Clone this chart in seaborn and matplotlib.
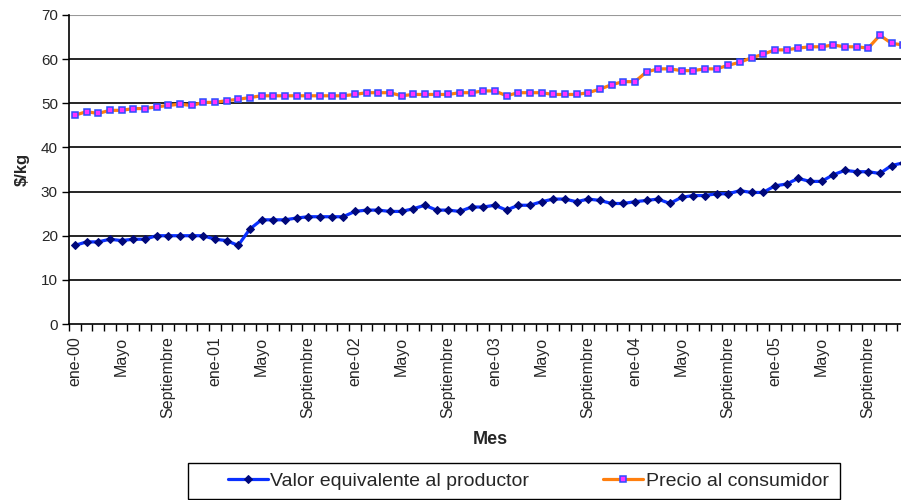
import matplotlib
matplotlib.use('Agg')
import matplotlib.pyplot as plt
import seaborn as sns
import numpy as np
import pandas as pd
from matplotlib.patches import Rectangle

# monthly values, ene-00 .. dic-05
productor = [17.8, 18.6, 18.6, 19.2, 18.9, 19.2, 19.2, 20.0, 20.0, 20.0, 20.0, 20.0,
             19.2, 18.9, 17.8, 21.5, 23.6, 23.6, 23.6, 24.0, 24.3, 24.3, 24.3, 24.3,
             25.5, 25.8, 25.8, 25.5, 25.5, 26.1, 26.9, 25.8, 25.8, 25.5, 26.5, 26.5,
             26.9, 25.8, 26.9, 26.9, 27.7, 28.3, 28.3, 27.7, 28.3, 28.0, 27.3, 27.3,
             27.7, 28.0, 28.3, 27.3, 28.7, 29.1, 29.1, 29.5, 29.5, 30.2, 29.8, 29.8,
             31.3, 31.7, 33.0, 32.3, 32.3, 33.8, 34.8, 34.5, 34.5, 34.1, 35.9, 36.5]
consumidor = [47.3, 48.1, 47.7, 48.4, 48.4, 48.8, 48.8, 49.2, 49.5, 49.8, 49.5, 50.2,
              50.2, 50.6, 50.9, 51.3, 51.7, 51.7, 51.7, 51.7, 51.7, 51.7, 51.7, 51.7,
              52.0, 52.4, 52.4, 52.4, 51.7, 52.0, 52.0, 52.0, 52.0, 52.4, 52.4, 52.8,
              52.8, 51.7, 52.4, 52.4, 52.4, 52.0, 52.0, 52.0, 52.4, 53.2, 54.2, 54.9,
              54.9, 57.1, 57.8, 57.8, 57.4, 57.4, 57.8, 57.8, 58.6, 59.3, 60.3, 61.1,
              62.1, 62.1, 62.5, 62.8, 62.8, 63.2, 62.8, 62.8, 62.5, 65.4, 63.6, 63.2]
tick_labels = ['ene-00', 'Mayo', 'Septiembre', 'ene-01', 'Mayo', 'Septiembre',
               'ene-02', 'Mayo', 'Septiembre', 'ene-03', 'Mayo', 'Septiembre',
               'ene-04', 'Mayo', 'Septiembre', 'ene-05', 'Mayo', 'Septiembre']

sns.set_style('white')
plt.rcParams['font.family'] = ['Liberation Sans', 'DejaVu Sans']

mes = np.arange(len(productor))
df = pd.DataFrame({'mes': mes, 'productor': productor, 'consumidor': consumidor})

fig = plt.figure(figsize=(9.01, 5.0), dpi=100)
ax = fig.add_axes([69 / 901, 1 - 324 / 500, 840 / 901, 309 / 500])

sns.lineplot(data=df, x='mes', y='productor', ax=ax, color='#0a30ff', lw=2.3,
             marker='D', markersize=4.3, markerfacecolor='#00087a', markeredgecolor='#00087a',
             label='Valor equivalente al productor')
sns.lineplot(data=df, x='mes', y='consumidor', ax=ax, color='#ff7f0e', lw=2.3,
             marker='s', markersize=4.2, markerfacecolor='#ff33ff', markeredgecolor='#2b4bff',
             markeredgewidth=1.1, label='Precio al consumidor')

ax.set_xlim(-0.5, 70.6)
ax.set_ylim(0, 70)
ax.set_yticks(range(0, 71, 10))
for y in range(10, 70, 10):
    ax.axhline(y, color='black', lw=1.2, zorder=0)
ax.axhline(70, color='#999999', lw=1.5, zorder=0)

ax.set_xticks(np.arange(0, 72, 4))
ax.set_xticklabels(tick_labels, rotation=90, fontsize=11.5)
ax.set_xticks(np.arange(-0.5, 72, 1), minor=True)
ax.tick_params(axis='x', which='major', length=0, pad=9)
ax.tick_params(axis='x', which='minor', length=5, width=1, color='black', direction='out')
ax.tick_params(axis='y', length=5, width=1, color='black', direction='out', labelsize=11, pad=3)
ax.xaxis.set_ticks_position('bottom')
ax.yaxis.set_ticks_position('left')

for s in ['top', 'right']:
    ax.spines[s].set_visible(False)
for s in ['left', 'bottom']:
    ax.spines[s].set_color('black')
    ax.spines[s].set_linewidth(1.2)

ax.set_xlabel('Mes', fontsize=13, fontweight='bold')
ax.xaxis.set_label_coords((490 - 69) / 840, (324 - 440) / 309)
ax.xaxis.label.set_va('center')
ax.set_ylabel('$/kg', fontsize=12, fontweight='bold', labelpad=8)

# legend box
fig.patches.append(Rectangle((188 / 901, 1 - 499 / 500), 652 / 901, 36 / 500,
                             transform=fig.transFigure, fill=False, edgecolor='black', lw=1))
leg = ax.legend(loc='center left', bbox_to_anchor=(218 / 901, 1 - 481 / 500),
                bbox_transform=fig.transFigure, ncol=2, fontsize=14, frameon=False,
                borderpad=0, columnspacing=3.8, handlelength=2.05, handletextpad=0.15)

fig.savefig('out.png', dpi=100)
